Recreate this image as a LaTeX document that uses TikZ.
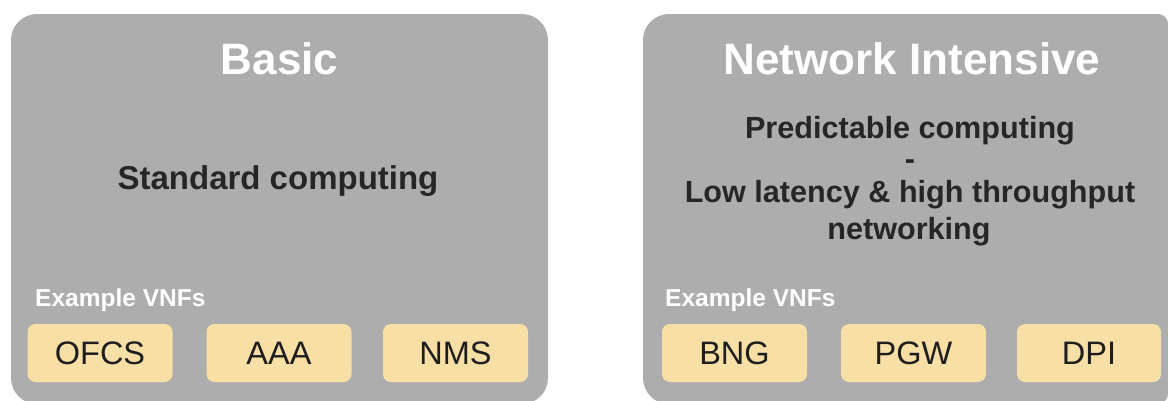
\documentclass[tikz,border=0pt]{standalone}
\usepackage{fontspec}
\setmainfont{Liberation Sans}
\definecolor{panelgray}{HTML}{ADADAD}
\definecolor{vnfyellow}{HTML}{F8DFA5}
\definecolor{inkdark}{HTML}{262626}
\definecolor{boxink}{HTML}{1E1E1E}
\tikzset{
  title/.style={anchor=base, text=white, inner sep=0pt,
    font=\fontsize{44}{50}\selectfont\bfseries},
  desc/.style={anchor=base, text=inkdark, inner sep=0pt,
    font=\fontsize{#1}{#1}\selectfont\bfseries},
  desc/.default=30.6,
  vnflabel/.style={anchor=base west, text=white, inner sep=0pt,
    font=\fontsize{24.5}{28}\selectfont\bfseries},
  vnfbox/.style={fill=vnfyellow, rounded corners=8pt, text=boxink,
    minimum width=145pt, minimum height=58pt, inner sep=0pt,
    font=\fontsize{32.5}{38}\selectfont},
}
\begin{document}
\begin{tikzpicture}[x=1pt,y=-1pt]
\useasboundingbox (0,0) rectangle (1168,400);
\clip (0,0) rectangle (1168,400);

% panels
\fill[panelgray, rounded corners=26pt] (11,14) rectangle (548,404);
\fill[panelgray, rounded corners=26pt] (643,14) rectangle (1168,404);
\fill[panelgray, rounded corners=10pt] (700,14) rectangle (1168,404);

% Basic profile
\node[title] (basicTitle) at (279.5,74) {Basic};
\node[desc=33] (basicDesc) at (278,189) {Standard computing};
\node[vnflabel] (basicEx) at (35,306) {Example VNFs};
\node[vnfbox] (ofcs) at (100,353) {OFCS};
\node[vnfbox] (aaa) at (279,353) {AAA};
\node[vnfbox] (nms) at (455.5,353) {NMS};

% Network intensive profile
\node[title] (netTitle) at (912,74) {Network Intensive};
\node[desc] (netDescA) at (910,138) {Predictable computing};
\node[desc] (netDash) at (910,169) {-};
\node[desc] (netDescB) at (910,202) {Low latency \& high throughput};
\node[desc] (netDescC) at (909,239) {networking};
\node[vnflabel] (netEx) at (665,306) {Example VNFs};
\node[vnfbox] (bng) at (734.5,353) {BNG};
\node[vnfbox] (pgw) at (913.5,353) {PGW};
\node[vnfbox, minimum width=144pt] (dpi) at (1089,353) {DPI};
\end{tikzpicture}
\end{document}
